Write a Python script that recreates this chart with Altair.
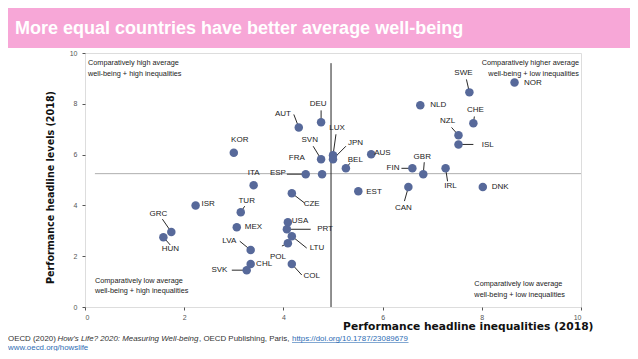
import altair as alt
import pandas as pd

# ---------------- data ----------------
COUNTRIES = ["NOR", "SWE", "NLD", "CHE", "NZL", "ISL", "DEU", "AUT", "KOR", "LUX",
             "JPN", "SVN", "FRA", "AUS", "BEL", "ESP", "FIN", "GBR", "IRL", "CAN",
             "EST", "DNK", "ITA", "CZE", "ISR", "TUR", "GRC", "HUN", "MEX", "USA",
             "PRT", "LTU", "POL", "LVA", "CHL", "SVK", "COL"]
INEQUALITIES = [8.66, 7.75, 6.76, 7.83, 7.53, 7.53, 4.76, 4.31, 3.00, 5.00,
                5.00, 4.76, 4.78, 5.77, 5.26, 4.45, 6.60, 6.82, 7.27, 6.52,
                5.51, 8.02, 3.40, 4.17, 2.23, 3.14, 1.74, 1.58, 3.06, 4.09,
                4.07, 4.17, 4.09, 3.34, 3.34, 3.26, 4.17]
LEVELS = [8.84, 8.45, 7.94, 7.23, 6.76, 6.40, 7.27, 7.07, 6.07, 5.97,
          5.82, 5.82, 5.23, 6.01, 5.46, 5.23, 5.46, 5.23, 5.46, 4.72,
          4.56, 4.72, 4.79, 4.48, 4.00, 3.73, 2.95, 2.75, 3.14, 3.34,
          3.06, 2.79, 2.51, 2.24, 1.69, 1.45, 1.69]

# reference (average) lines
AVG_INEQUALITIES = 4.96
AVG_LEVELS = 5.25

X_TICKS = [0, 2, 4, 6, 8, 10]
Y_TICKS = [0, 2, 4, 6, 8, 10]

TITLE = "More equal countries have better average well-being"
X_TITLE = "Performance headline inequalities (2018)"
Y_TITLE = "Performance headline levels (2018)"

QUADRANTS = [
    ["Comparatively high average", "well-being + high inequalities"],
    ["Comparatively higher average", "well-being + low inequalities"],
    ["Comparatively low average", "well-being + high inequalities"],
    ["Comparatively low average", "well-being + low inequalities"],
]

SOURCE_1 = "OECD (2020) "
SOURCE_2 = "How's Life? 2020: Measuring Well-being"
SOURCE_3 = ", OECD Publishing, Paris, "
SOURCE_4 = "https://doi.org/10.1787/23089679"
SOURCE_5 = "www.oecd.org/howslife"

# ---------------- annotation placement (data units) ----------------
LABEL_POS = {
    "NOR": (8.85, 8.80, "left"), "SWE": (7.63, 9.23, "center"), "NLD": (6.96, 7.94, "left"),
    "CHE": (7.87, 7.74, "center"), "NZL": (7.31, 7.31, "center"), "ISL": (8.00, 6.37, "left"),
    "DEU": (4.70, 7.98, "center"), "AUT": (3.99, 7.58, "center"), "KOR": (3.12, 6.56, "center"),
    "LUX": (5.08, 7.03, "center"), "JPN": (5.30, 6.44, "left"), "SVN": (4.53, 6.56, "center"),
    "FRA": (4.27, 5.85, "center"), "AUS": (5.83, 6.05, "left"), "BEL": (5.45, 5.78, "center"),
    "ESP": (3.89, 5.27, "center"), "FIN": (6.21, 5.46, "center"), "GBR": (6.80, 5.89, "center"),
    "IRL": (7.37, 4.75, "center"), "CAN": (6.42, 3.89, "center"), "EST": (5.67, 4.52, "left"),
    "DNK": (8.20, 4.72, "left"), "ITA": (3.40, 5.27, "center"), "CZE": (4.57, 4.05, "center"),
    "ISR": (2.35, 4.05, "left"), "TUR": (3.26, 4.17, "center"), "GRC": (1.48, 3.65, "center"),
    "HUN": (1.72, 2.28, "center"), "MEX": (3.22, 3.14, "left"), "USA": (4.17, 3.38, "left"),
    "PRT": (4.68, 3.06, "left"), "LTU": (4.53, 2.32, "left"), "POL": (3.89, 1.96, "center"),
    "LVA": (2.91, 2.59, "center"), "CHL": (3.45, 1.69, "left"), "SVK": (2.71, 1.45, "center"),
    "COL": (4.57, 1.22, "center"),
}
LEADER_FROM = {
    "SWE": (7.69, 8.96), "CHE": (7.85, 7.50), "NZL": (7.39, 7.07), "ISL": (7.83, 6.40),
    "DEU": (4.76, 7.74), "AUT": (4.21, 7.58), "LUX": (5.06, 6.80), "JPN": (5.26, 6.33),
    "SVN": (4.60, 6.33), "BEL": (5.34, 5.66), "ESP": (4.07, 5.23), "FIN": (6.38, 5.46),
    "GBR": (6.84, 5.70), "IRL": (7.31, 4.95), "CAN": (6.44, 4.17), "CZE": (4.43, 4.09),
    "TUR": (3.22, 3.97), "GRC": (1.56, 3.46), "HUN": (1.72, 2.44), "PRT": (4.55, 3.06),
    "LTU": (4.47, 2.32), "POL": (3.97, 2.40), "LVA": (3.12, 2.59), "SVK": (2.96, 1.45),
    "COL": (4.37, 1.26),
}

PINK = "#F7A7D7"
DOT = "#57699A"
FONT = "Liberation Sans"

df = pd.DataFrame({"country": COUNTRIES, "ineq": INEQUALITIES, "level": LEVELS})
df["lx"] = [LABEL_POS[c][0] for c in COUNTRIES]
df["ly"] = [LABEL_POS[c][1] for c in COUNTRIES]
df["align"] = [LABEL_POS[c][2] for c in COUNTRIES]
lead = df[df["country"].isin(LEADER_FROM.keys())].copy()
lead["sx"] = [LEADER_FROM[c][0] for c in lead["country"]]
lead["sy"] = [LEADER_FROM[c][1] for c in lead["country"]]

xs = alt.Scale(domain=[0, 10], nice=False, zero=False)
ys = alt.Scale(domain=[0, 10], nice=False, zero=False)

one = pd.DataFrame({"a": [0]})

# ---------------- layers ----------------
vline = alt.Chart(pd.DataFrame({"x": [AVG_INEQUALITIES], "y": [0.0], "y2": [9.6]})).mark_rule(
    color="#222", strokeWidth=1).encode(
    x=alt.X("x:Q", scale=xs), y=alt.Y("y:Q", scale=ys), y2="y2:Q")
hline = alt.Chart(pd.DataFrame({"y": [AVG_LEVELS], "x": [0.2], "x2": [10.0]})).mark_rule(
    color="#9a9a9a", strokeWidth=0.8).encode(
    y=alt.Y("y:Q", scale=ys), x=alt.X("x:Q", scale=xs), x2="x2:Q")

leaders = alt.Chart(lead).mark_rule(color="#111", strokeWidth=0.9).encode(
    x=alt.X("sx:Q", scale=xs), y=alt.Y("sy:Q", scale=ys), x2="ineq:Q", y2="level:Q")

points = alt.Chart(df).mark_circle(size=72, color=DOT, opacity=1).encode(
    x=alt.X("ineq:Q", scale=xs,
            axis=alt.Axis(values=X_TICKS, title=X_TITLE, grid=False, domain=False,
                          tickSize=3, tickColor="#555", labelFontSize=7, labelColor="#555",
                          labelPadding=3, labelFont=FONT,
                          titleFont="DejaVu Sans", titleFontSize=10.7, titleFontWeight="bold",
                          titleColor="#111", titleX=508, titleY=22, titleAlign="right",
                          titleBaseline="alphabetic", titleAnchor="end")),
    y=alt.Y("level:Q", scale=ys,
            axis=alt.Axis(values=Y_TICKS, title=Y_TITLE, grid=False, domain=False,
                          tickSize=3, tickColor="#555", labelFontSize=7, labelColor="#555",
                          labelPadding=5, labelFont=FONT,
                          titleFont="DejaVu Sans", titleFontSize=9.6, titleFontWeight="bold",
                          titleColor="#111", titleX=-35, titleY=134, titleAngle=-90,
                          titleAlign="center", titleBaseline="middle", titleAnchor="middle")),
)

label_layers = []
for al in ["left", "center", "right"]:
    sub = df[df["align"] == al]
    if len(sub):
        label_layers.append(alt.Chart(sub).mark_text(
            align=al, baseline="middle", font=FONT, fontSize=8, color="#222").encode(
            x=alt.X("lx:Q", scale=xs), y=alt.Y("ly:Q", scale=ys), text="country:N"))

quad_df = pd.DataFrame({
    "text": QUADRANTS[0] + QUADRANTS[1] + QUADRANTS[2] + QUADRANTS[3],
    "x": [0.06, 0.06, 9.96, 9.96, 0.20, 0.20, 7.85, 7.85],
    "y": [9.62, 9.19, 9.62, 9.19, 1.02, 0.62, 0.90, 0.47],
    "align": ["left", "left", "right", "right", "left", "left", "left", "left"],
})
quad_layers = []
for al in ["left", "right"]:
    quad_layers.append(alt.Chart(quad_df[quad_df["align"] == al]).mark_text(
        align=al, baseline="middle", font=FONT, fontSize=7.3, color="#222").encode(
        x=alt.X("x:Q", scale=xs), y=alt.Y("y:Q", scale=ys), text="text:N"))

bar = alt.Chart(one).mark_rect(color=PINK, clip=False).encode(
    x=alt.value(-95), x2=alt.value(600), y=alt.value(-60), y2=alt.value(-5))
title = alt.Chart(one).mark_text(
    text=TITLE, align="left", baseline="middle", font="Liberation Sans",
    fontSize=18, fontWeight="bold", color="white").encode(x=alt.value(-70), y=alt.value(-24))

fy1, fy2 = 285.5, 295
FS = 7.9
src = [
    alt.Chart(one).mark_text(text=SOURCE_1, align="left", baseline="middle", font=FONT,
                             fontSize=FS, color="#333").encode(x=alt.value(-77), y=alt.value(fy1)),
    alt.Chart(one).mark_text(text=SOURCE_2, align="left", baseline="middle", font=FONT,
                             fontSize=FS, fontStyle="italic", color="#333").encode(x=alt.value(-27.5), y=alt.value(fy1)),
    alt.Chart(one).mark_text(text=SOURCE_3, align="left", baseline="middle", font=FONT,
                             fontSize=FS, color="#333").encode(x=alt.value(114), y=alt.value(fy1)),
    alt.Chart(one).mark_text(text=SOURCE_4, align="left", baseline="middle", font=FONT,
                             fontSize=FS, color="#2E6DB4").encode(x=alt.value(207), y=alt.value(fy1)),
    alt.Chart(one).mark_rule(color="#2E6DB4", strokeWidth=0.6).encode(
        x=alt.value(207), x2=alt.value(323.5), y=alt.value(fy1 + 4)),
    alt.Chart(one).mark_text(text=SOURCE_5, align="left", baseline="middle", font=FONT,
                             fontSize=FS, color="#2E6DB4").encode(x=alt.value(-77), y=alt.value(fy2)),
    alt.Chart(one).mark_rule(color="#2E6DB4", strokeWidth=0.6).encode(
        x=alt.value(-77), x2=alt.value(4), y=alt.value(fy2 + 4)),
]

chart = alt.layer(
    bar, title, hline, vline, leaders, points, *label_layers, *quad_layers, *src
).properties(
    width=496, height=254,
    autosize=alt.AutoSizeParams(type="none"),
    padding={"left": 77, "top": 45, "right": 49, "bottom": 44},
).configure_view(stroke="#444", strokeWidth=1).configure(background="white")

chart.save("out.html", embed_options={"renderer": "svg", "actions": False})
